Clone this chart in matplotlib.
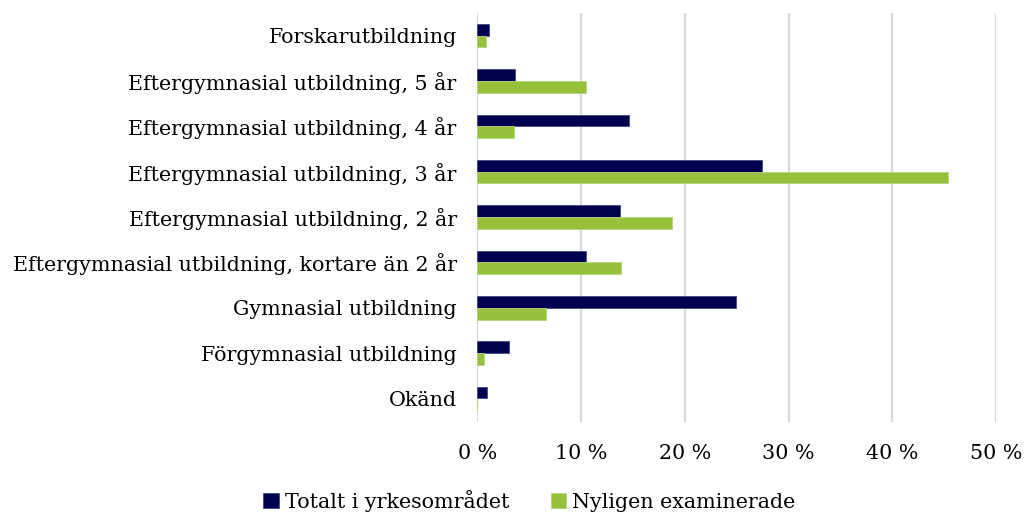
#!/usr/bin/env python3
"""
Utbildningsnivå - totalt i yrkesområdet vs nyligen examinerade
"""

import numpy as np
import matplotlib.pyplot as plt
from matplotlib.ticker import FuncFormatter

# Kategorier (uppifrån och ned)
kategorier = [
    'Forskarutbildning',
    'Eftergymnasial utbildning, 5 år',
    'Eftergymnasial utbildning, 4 år',
    'Eftergymnasial utbildning, 3 år',
    'Eftergymnasial utbildning, 2 år',
    'Eftergymnasial utbildning, kortare än 2 år',
    'Gymnasial utbildning',
    'Förgymnasial utbildning',
    'Okänd',
]

# Andelar i procent
totalt = [1.1, 3.6, 14.6, 27.4, 13.7, 10.5, 24.9, 3.0, 0.95]
nyligen = [0.8, 10.5, 3.5, 45.4, 18.8, 13.8, 6.6, 0.6, 0.0]

x_ticks = [0, 10, 20, 30, 40, 50]

NAVY = '#00004F'
GREEN = '#97C03D'
FS = 14.9

plt.rcParams['font.family'] = ['DejaVu Serif']

fig = plt.figure(figsize=(10.24, 5.15), dpi=100)
ax = fig.add_axes([0.4663, 0.1806, 0.5062, 0.7942])

y = np.arange(len(kategorier))
h = 0.26

ax.barh(y - h / 2, totalt, height=h, color=NAVY, edgecolor='#4a4a85', linewidth=0.6,
        label='Totalt i yrkesområdet', zorder=3)
ax.barh(y + h / 2, nyligen, height=h, color=GREEN, edgecolor='#b5d47a', linewidth=0.6,
        label='Nyligen examinerade', zorder=3)

ax.set_xlim(0, 50)
ax.set_ylim(len(kategorier) - 0.5 + 0.02, -0.5)
ax.set_yticks(y)
ax.set_yticklabels(kategorier, fontsize=FS)
ax.set_xticks(x_ticks)
ax.xaxis.set_major_formatter(FuncFormatter(lambda v, p: f'{v:.0f} %'))
ax.tick_params(axis='x', labelsize=FS, length=0, pad=16)
ax.tick_params(axis='y', length=0, pad=15)

ax.grid(axis='x', color='#d9d9d9', linewidth=1.6, zorder=0)
for s in ax.spines.values():
    s.set_visible(False)

fig.legend(loc='lower center', bbox_to_anchor=(0.517, -0.03), ncol=2, frameon=False,
           fontsize=FS, handlelength=0.75, handleheight=0.75, handletextpad=0.3,
           columnspacing=2.0)

fig.savefig('out.png', dpi=100)
